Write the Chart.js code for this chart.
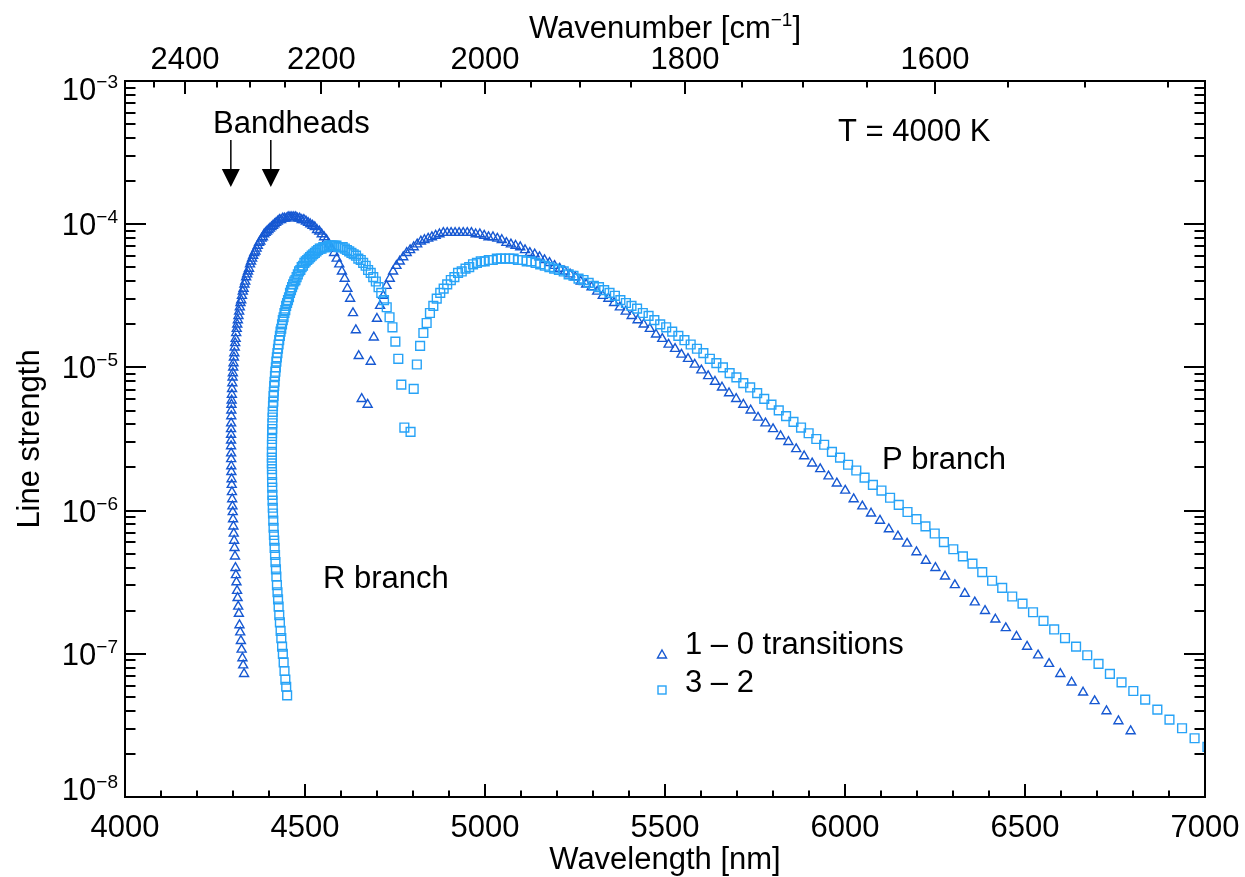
<!DOCTYPE html>
<html><head><meta charset="utf-8">
<script src="https://cdn.jsdelivr.net/npm/chart.js@4.4.1/dist/chart.umd.min.js"></script>
<style>html,body{margin:0;padding:0;background:#fff}canvas{display:block}</style>
</head><body>
<canvas id="c" width="1245" height="877"></canvas>
<script>
// Line positions (wavenumber, cm^-1) and log10 of line strength
// 1-0 band, P branch (J = 1..120)
const wn10P = [2139.5,2135.6,2131.7,2127.7,2123.8,2119.8,2115.8,2111.7,2107.6,2103.5,
2099.4,2095.2,2091.0,2086.8,2082.5,2078.3,2073.9,2069.6,2065.2,2060.8,
2056.4,2051.9,2047.4,2042.9,2038.4,2033.8,2029.2,2024.5,2019.9,2015.2,
2010.4,2005.7,2000.9,1996.1,1991.2,1986.4,1981.5,1976.5,1971.6,1966.6,
1961.6,1956.5,1951.4,1946.3,1941.2,1936.0,1930.8,1925.6,1920.3,1915.1,
1909.7,1904.4,1899.0,1893.6,1888.2,1882.7,1877.2,1871.7,1866.2,1860.6,
1855.0,1849.3,1843.7,1838.0,1832.2,1826.5,1820.7,1814.9,1809.0,1803.2,
1797.3,1791.3,1785.4,1779.4,1773.4,1767.3,1761.2,1755.1,1749.0,1742.8,
1736.6,1730.4,1724.1,1717.9,1711.5,1705.2,1698.8,1692.4,1686.0,1679.5,
1673.0,1666.5,1660.0,1653.4,1646.8,1640.1,1633.5,1626.8,1620.1,1613.3,
1606.5,1599.7,1592.9,1586.0,1579.1,1572.2,1565.2,1558.2,1551.2,1544.1,
1537.1,1529.9,1522.8,1515.6,1508.4,1501.2,1494.0,1486.7,1479.4,1472.0];
const lg10P = [-5.26,-4.96,-4.79,-4.66,-4.57,-4.50,-4.43,-4.38,-4.33,-4.29,
-4.26,-4.23,-4.20,-4.18,-4.16,-4.14,-4.12,-4.11,-4.10,-4.09,
-4.08,-4.07,-4.06,-4.06,-4.06,-4.06,-4.06,-4.06,-4.06,-4.06,
-4.07,-4.07,-4.08,-4.09,-4.09,-4.10,-4.11,-4.13,-4.14,-4.15,
-4.16,-4.18,-4.20,-4.21,-4.23,-4.25,-4.27,-4.29,-4.31,-4.33,
-4.35,-4.37,-4.40,-4.42,-4.44,-4.47,-4.50,-4.52,-4.55,-4.58,
-4.61,-4.64,-4.67,-4.70,-4.73,-4.77,-4.80,-4.84,-4.87,-4.91,
-4.94,-4.98,-5.02,-5.06,-5.10,-5.14,-5.18,-5.22,-5.26,-5.30,
-5.35,-5.39,-5.43,-5.48,-5.52,-5.57,-5.62,-5.67,-5.71,-5.76,
-5.81,-5.86,-5.92,-5.97,-6.02,-6.07,-6.13,-6.18,-6.23,-6.29,
-6.35,-6.40,-6.46,-6.52,-6.58,-6.64,-6.70,-6.76,-6.82,-6.88,
-6.95,-7.01,-7.07,-7.14,-7.20,-7.27,-7.33,-7.40,-7.47,-7.54];
// 1-0 band, R branch (J = 0..127)
const wn10R = [2147.1,2150.9,2154.6,2158.3,2162.0,2165.6,2169.1,2172.7,2176.2,2179.6,
2183.0,2186.4,2189.7,2193.0,2196.3,2199.5,2202.7,2205.8,2208.9,2212.0,
2215.0,2218.0,2220.9,2223.8,2226.7,2229.5,2232.3,2235.0,2237.7,2240.4,
2243.0,2245.6,2248.1,2250.6,2253.1,2255.5,2257.9,2260.2,2262.6,2264.8,
2267.0,2269.2,2271.4,2273.5,2275.6,2277.6,2279.6,2281.5,2283.4,2285.3,
2287.1,2288.9,2290.7,2292.4,2294.1,2295.7,2297.3,2298.8,2300.3,2301.8,
2303.3,2304.6,2306.0,2307.3,2308.6,2309.8,2311.0,2312.2,2313.3,2314.4,
2315.4,2316.4,2317.4,2318.3,2319.2,2320.0,2320.8,2321.6,2322.3,2323.0,
2323.6,2324.2,2324.8,2325.3,2325.8,2326.2,2326.6,2327.0,2327.3,2327.6,
2327.9,2328.1,2328.2,2328.4,2328.5,2328.5,2328.5,2328.5,2328.4,2328.3,
2328.2,2328.0,2327.7,2327.5,2327.2,2326.8,2326.4,2326.0,2325.5,2325.0,
2324.5,2323.9,2323.3,2322.6,2321.9,2321.2,2320.4,2319.5,2318.7,2317.8,
2316.8,2315.9,2314.8,2313.8,2312.7,2311.5,2310.4,2309.1];
const lg10R = [-5.22,-4.92,-4.74,-4.62,-4.52,-4.45,-4.38,-4.33,-4.28,-4.24,
-4.20,-4.17,-4.14,-4.11,-4.09,-4.07,-4.05,-4.04,-4.02,-4.01,
-4.00,-3.99,-3.98,-3.97,-3.97,-3.96,-3.96,-3.95,-3.95,-3.95,
-3.95,-3.95,-3.96,-3.96,-3.96,-3.97,-3.97,-3.98,-3.99,-4.00,
-4.01,-4.02,-4.03,-4.04,-4.05,-4.06,-4.07,-4.09,-4.10,-4.12,
-4.13,-4.15,-4.17,-4.19,-4.20,-4.22,-4.24,-4.26,-4.28,-4.31,
-4.33,-4.35,-4.37,-4.40,-4.42,-4.45,-4.47,-4.50,-4.53,-4.55,
-4.58,-4.61,-4.64,-4.67,-4.70,-4.73,-4.76,-4.80,-4.83,-4.86,
-4.90,-4.93,-4.97,-5.00,-5.04,-5.07,-5.11,-5.15,-5.19,-5.23,
-5.26,-5.30,-5.34,-5.39,-5.43,-5.47,-5.51,-5.55,-5.60,-5.64,
-5.69,-5.73,-5.78,-5.82,-5.87,-5.92,-5.97,-6.01,-6.06,-6.11,
-6.16,-6.21,-6.26,-6.32,-6.40,-6.45,-6.50,-6.56,-6.61,-6.67,
-6.72,-6.80,-6.85,-6.91,-6.97,-7.03,-7.08,-7.14];
// 3-2 band, P branch (J = 1..120)
const wn32P = [2086.3,2082.5,2078.7,2074.8,2070.9,2067.0,2063.1,2059.1,2055.1,2051.0,
2047.0,2042.9,2038.7,2034.6,2030.4,2026.2,2021.9,2017.7,2013.4,2009.0,
2004.7,2000.3,1995.8,1991.4,1986.9,1982.4,1977.9,1973.3,1968.7,1964.1,
1959.4,1954.7,1950.0,1945.3,1940.5,1935.7,1930.9,1926.0,1921.1,1916.2,
1911.2,1906.3,1901.2,1896.2,1891.1,1886.0,1880.9,1875.8,1870.6,1865.4,
1860.1,1854.8,1849.5,1844.2,1838.8,1833.4,1828.0,1822.6,1817.1,1811.6,
1806.0,1800.5,1794.9,1789.3,1783.6,1777.9,1772.2,1766.5,1760.7,1754.9,
1749.0,1743.2,1737.3,1731.4,1725.4,1719.4,1713.4,1707.4,1701.3,1695.2,
1689.1,1682.9,1676.8,1670.5,1664.3,1658.0,1651.7,1645.4,1639.0,1632.6,
1626.2,1619.8,1613.3,1606.8,1600.2,1593.7,1587.1,1580.4,1573.8,1567.1,
1560.4,1553.6,1546.9,1540.1,1533.2,1526.4,1519.5,1512.6,1505.6,1498.6,
1491.6,1484.6,1477.5,1470.4,1463.3,1456.1,1449.0,1441.7,1434.5,1427.2];
const lg32P = [-5.45,-5.15,-4.98,-4.85,-4.76,-4.69,-4.62,-4.57,-4.52,-4.48,
-4.45,-4.42,-4.39,-4.37,-4.34,-4.33,-4.31,-4.30,-4.28,-4.27,
-4.26,-4.26,-4.25,-4.25,-4.24,-4.24,-4.24,-4.24,-4.24,-4.25,
-4.25,-4.26,-4.26,-4.27,-4.28,-4.29,-4.30,-4.31,-4.32,-4.33,
-4.35,-4.36,-4.38,-4.39,-4.41,-4.43,-4.44,-4.46,-4.48,-4.50,
-4.53,-4.55,-4.57,-4.59,-4.62,-4.64,-4.67,-4.70,-4.72,-4.75,
-4.78,-4.81,-4.84,-4.87,-4.90,-4.94,-4.97,-5.00,-5.04,-5.07,
-5.11,-5.14,-5.18,-5.22,-5.26,-5.30,-5.34,-5.38,-5.42,-5.46,
-5.50,-5.54,-5.59,-5.63,-5.68,-5.72,-5.77,-5.82,-5.86,-5.91,
-5.96,-6.01,-6.06,-6.11,-6.16,-6.22,-6.27,-6.32,-6.37,-6.43,
-6.49,-6.54,-6.60,-6.65,-6.71,-6.77,-6.83,-6.89,-6.95,-7.01,
-7.07,-7.14,-7.20,-7.26,-7.32,-7.39,-7.46,-7.52,-7.59,-7.65];
// 3-2 band, R branch (J = 0..127)
const wn32R = [2093.8,2097.5,2101.2,2104.8,2108.4,2112.0,2115.5,2118.9,2122.3,2125.7,
2129.1,2132.4,2135.6,2138.9,2142.0,2145.2,2148.3,2151.4,2154.4,2157.4,
2160.3,2163.2,2166.1,2168.9,2171.7,2174.5,2177.2,2179.9,2182.5,2185.1,
2187.6,2190.1,2192.6,2195.1,2197.4,2199.8,2202.1,2204.4,2206.6,2208.8,
2211.0,2213.1,2215.2,2217.2,2219.2,2221.2,2223.1,2225.0,2226.8,2228.6,
2230.4,2232.1,2233.8,2235.4,2237.0,2238.6,2240.1,2241.6,2243.0,2244.4,
2245.8,2247.1,2248.4,2249.6,2250.8,2252.0,2253.1,2254.2,2255.3,2256.3,
2257.2,2258.2,2259.1,2259.9,2260.7,2261.5,2262.2,2262.9,2263.6,2264.2,
2264.8,2265.3,2265.8,2266.2,2266.6,2267.0,2267.4,2267.6,2267.9,2268.1,
2268.3,2268.4,2268.5,2268.6,2268.6,2268.6,2268.5,2268.4,2268.3,2268.1,
2267.9,2267.6,2267.3,2267.0,2266.6,2266.2,2265.7,2265.2,2264.7,2264.1,
2263.5,2262.8,2262.2,2261.4,2260.6,2259.8,2259.0,2258.1,2257.2,2256.2,
2255.2,2254.1,2253.0,2251.9,2250.7,2249.5,2248.3,2247.0];
const lg32R = [-5.42,-5.12,-4.94,-4.82,-4.72,-4.65,-4.58,-4.53,-4.48,-4.44,
-4.40,-4.37,-4.34,-4.32,-4.29,-4.27,-4.25,-4.24,-4.22,-4.21,
-4.20,-4.19,-4.18,-4.17,-4.16,-4.16,-4.16,-4.15,-4.15,-4.15,
-4.15,-4.15,-4.16,-4.16,-4.16,-4.17,-4.17,-4.18,-4.19,-4.20,
-4.21,-4.22,-4.23,-4.24,-4.25,-4.26,-4.27,-4.29,-4.30,-4.32,
-4.33,-4.35,-4.37,-4.39,-4.40,-4.42,-4.44,-4.46,-4.48,-4.51,
-4.53,-4.55,-4.57,-4.60,-4.62,-4.65,-4.67,-4.70,-4.73,-4.75,
-4.78,-4.81,-4.84,-4.87,-4.90,-4.93,-4.96,-5.00,-5.03,-5.06,
-5.10,-5.13,-5.17,-5.20,-5.24,-5.27,-5.31,-5.35,-5.39,-5.43,
-5.46,-5.50,-5.54,-5.59,-5.63,-5.67,-5.71,-5.75,-5.80,-5.84,
-5.89,-5.93,-5.98,-6.02,-6.07,-6.12,-6.17,-6.21,-6.26,-6.31,
-6.36,-6.41,-6.46,-6.52,-6.57,-6.62,-6.67,-6.73,-6.78,-6.84,
-6.89,-6.95,-7.00,-7.06,-7.12,-7.18,-7.23,-7.29];

// Axis ticks and labels
const xTicks = [4000,4500,5000,5500,6000,6500,7000];
const wnTicks = [2400,2200,2000,1800,1600];
const yTickExp = [-3,-4,-5,-6,-7,-8];
const seriesNames = ['1 \u2013 0 transitions','3 \u2013 2'];
const bandheadNm = [4294,4405];

const C1 = '#1658d2', C2 = '#27a3f7';
const FONT = '"Liberation Sans", Arial, Helvetica, sans-serif';

function toPts(wn, lg){ return wn.map((w,i)=>({x:1e7/w, y:Math.pow(10, lg[i])})); }
const pts10 = toPts(wn10R, lg10R).concat(toPts(wn10P, lg10P));
const pts32 = toPts(wn32R, lg32R).concat(toPts(wn32P, lg32P));

function txt(ctx, s, x, y, size, align){
  ctx.font = size + 'px ' + FONT;
  ctx.textAlign = align || 'left';
  ctx.textBaseline = 'alphabetic';
  ctx.fillText(s, x, y);
  return ctx.measureText(s).width;
}
function supText(ctx, parts, x, y, align){
  let total = 0;
  parts.forEach(p=>{ ctx.font = p[1]+'px '+FONT; total += ctx.measureText(p[0]).width; });
  let x0 = align==='center' ? x - total/2 : (align==='right' ? x - total : x);
  parts.forEach(p=>{ ctx.font = p[1]+'px '+FONT; ctx.textAlign='left'; ctx.textBaseline='alphabetic';
    ctx.fillText(p[0], x0, y + p[2]); x0 += ctx.measureText(p[0]).width; });
}

const axesPlugin = {
  id: 'axesPlugin',
  afterDraw(chart){
    const ctx = chart.ctx, a = chart.chartArea, xs = chart.scales.x, ys = chart.scales.y;
    ctx.save();
    ctx.strokeStyle = '#000'; ctx.fillStyle = '#000'; ctx.lineWidth = 2; ctx.lineCap = 'butt';
    ctx.strokeRect(a.left, a.top, a.right - a.left, a.bottom - a.top);
    ctx.beginPath();
    for (let v = 4000; v <= 7000; v += 100){
      const px = Math.round(xs.getPixelForValue(v));
      const len = (v % 500 === 0) ? 13 : 6.5;
      ctx.moveTo(px, a.bottom); ctx.lineTo(px, a.bottom - len);
    }
    for (let w = 2450; w >= 1450; w -= 50){
      const v = 1e7 / w; if (v <= 4000 || v > 7000) continue;
      const px = Math.round(xs.getPixelForValue(v));
      const len = (w % 200 === 0) ? 13 : 6.5;
      ctx.moveTo(px, a.top); ctx.lineTo(px, a.top + len);
    }
    for (let e = -8; e <= -3; e++){
      for (let k = 1; k <= 9; k++){
        const v = k * Math.pow(10, e); if (v > 1.0001e-3) continue;
        const py = Math.round(ys.getPixelForValue(v));
        const len = (k === 1) ? 21 : 10.5;
        ctx.moveTo(a.left, py); ctx.lineTo(a.left + len, py);
        ctx.moveTo(a.right, py); ctx.lineTo(a.right - len, py);
      }
    }
    ctx.stroke();

    xTicks.forEach(v => txt(ctx, String(v), xs.getPixelForValue(v), 837, 31, 'center'));
    wnTicks.forEach(w => txt(ctx, String(w), xs.getPixelForValue(1e7 / w), 69, 31, 'center'));
    yTickExp.forEach((e, i) => {
      let py = ys.getPixelForValue(Math.pow(10, e));
      if (i === 0) py += 8; else if (i === yTickExp.length - 1) py -= 8;
      supText(ctx, [['10', 31, 0], ['\u2212' + Math.abs(e), 19, -12]], 118, py + 11, 'right');
    });

    txt(ctx, 'Wavelength [nm]', (a.left + a.right) / 2, 869, 31, 'center');
    supText(ctx, [['Wavenumber [cm', 31, 0], ['\u22121', 19, -12], [']', 31, 0]], (a.left + a.right) / 2, 38, 'center');
    ctx.save(); ctx.translate(39, (a.top + a.bottom) / 2); ctx.rotate(-Math.PI / 2);
    txt(ctx, 'Line strength', 0, 0, 31, 'center'); ctx.restore();

    txt(ctx, 'Bandheads', 213, 133, 31, 'left');
    txt(ctx, 'T = 4000 K', 838, 141, 31, 'left');
    txt(ctx, 'P branch', 882, 469, 31, 'left');
    txt(ctx, 'R branch', 323, 588, 31, 'left');

    bandheadNm.forEach(v => {
      const px = xs.getPixelForValue(v);
      ctx.beginPath(); ctx.lineWidth = 1.5; ctx.moveTo(px, 140); ctx.lineTo(px, 172); ctx.stroke();
      ctx.beginPath(); ctx.moveTo(px - 9, 169); ctx.lineTo(px + 9, 169); ctx.lineTo(px, 187); ctx.closePath(); ctx.fill();
    });

    ctx.lineWidth = 1.4;
    ctx.strokeStyle = C1; ctx.beginPath();
    ctx.moveTo(662, 650); ctx.lineTo(666.5, 658); ctx.lineTo(657.5, 658); ctx.closePath(); ctx.stroke();
    ctx.strokeStyle = C2; ctx.strokeRect(658, 686, 8, 8);
    ctx.fillStyle = '#000';
    txt(ctx, seriesNames[0], 685, 654, 31, 'left');
    txt(ctx, seriesNames[1], 685, 692, 31, 'left');
    ctx.restore();
  }
};

new Chart(document.getElementById('c'), {
  type: 'scatter',
  data: { datasets: [
    { label: seriesNames[0], data: pts10, pointStyle: 'triangle', pointRadius: 5.2,
      borderColor: C1, backgroundColor: 'rgba(0,0,0,0)', borderWidth: 1.4, order: 2 },
    { label: seriesNames[1], data: pts32, pointStyle: 'rect', pointRadius: 6.2,
      borderColor: C2, backgroundColor: 'rgba(0,0,0,0)', borderWidth: 1.4, order: 1 }
  ]},
  options: {
    responsive: false, animation: false, devicePixelRatio: 1, events: [],
    layout: { padding: { left: 125, right: 40, top: 81, bottom: 80 } },
    plugins: { legend: { display: false }, tooltip: { enabled: false } },
    scales: {
      x: { type: 'linear', min: 4000, max: 7000, display: false },
      y: { type: 'logarithmic', min: 1e-8, max: 1e-3, display: false }
    }
  },
  plugins: [axesPlugin]
});
</script>
</body></html>
